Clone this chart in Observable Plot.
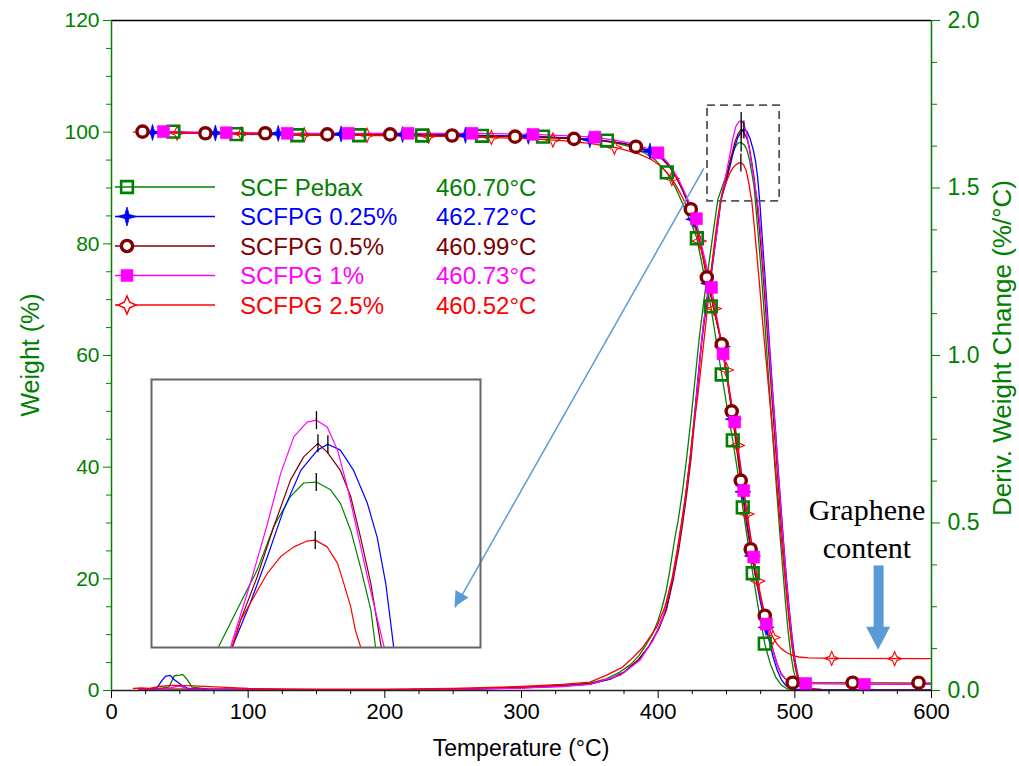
<!DOCTYPE html>
<html><head><meta charset="utf-8">
<script src="https://cdn.jsdelivr.net/npm/d3@7"></script>
<script src="https://cdn.jsdelivr.net/npm/@observablehq/plot@0.6"></script>
<style>
body{margin:0;background:#fff;}
#wrap{position:relative;width:1019px;height:766px;overflow:hidden;background:#fff;}
#inset{position:absolute;left:151px;top:379px;}
</style></head><body><div id="wrap"></div>
<script>
// ---------- DATA ----------
const seriesNames = ["SCF Pebax", "SCFPG 0.25%", "SCFPG 0.5%", "SCFPG 1%", "SCFPG 2.5%"];
const peakLabels = ["460.70°C", "462.72°C", "460.99°C", "460.73°C", "460.52°C"];
const peakTemps = [460.70, 462.72, 460.99, 460.73, 460.52];
const peakRates = [1.636, 1.675, 1.676, 1.700, 1.576];
const seriesColors = ["#008000", "#0000ff", "#800000", "#ff00ff", "#ff0000"];

const xMajorTicks = [0, 100, 200, 300, 400, 500, 600];
const xMinorTicks = [25, 50, 75, 125, 150, 175, 225, 250, 275, 325, 350, 375, 425, 450, 475, 525, 550, 575];
const wMajorTicks = [0, 20, 40, 60, 80, 100, 120];
const wMinorTicks = [5, 10, 15, 25, 30, 35, 45, 50, 55, 65, 70, 75, 85, 90, 95, 105, 110, 115];
const dMajorTicks = [0, 0.5, 1.0, 1.5, 2.0];
const dMinorTicks = [0.125, 0.25, 0.375, 0.625, 0.75, 0.875, 1.125, 1.25, 1.375, 1.625, 1.75, 1.875];

// TGA weight curves  [temperature °C, weight %]
const tgaPebax = [[20,100.0],[45.3,100.1],[91.4,99.65],[135.9,99.45],[181.2,99.45],[227.3,99.4],[271.1,99.35],[315.7,99.2],[340,98.9],[362.5,98.45],[378,97.5],[390,96.3],[398,95.0],[406.3,92.8],[413,89.9],[419,86.6],[424,83.8],[428.3,81.0],[433,75.2],[438.5,68.8],[442.5,62.6],[446.5,56.6],[450.5,50.6],[454.6,44.8],[458,39.4],[461.9,32.8],[465.5,26.8],[469.2,21.0],[473,15.2],[478,8.4],[482,4.8],[486,2.4],[490,1.0],[494,0.35],[500,0.1],[510,0.05],[600,0.03]];
const tgaPG025 = [[20,100.0],[40,99.95],[70,99.85],[110,99.8],[160,99.7],[200,99.6],[250,99.5],[295,99.3],[320,99.1],[340,98.9],[360,98.5],[375,98.0],[385,97.4],[395,96.5],[402,95.5],[408,94.0],[413,92.1],[418,89.6],[423,86.7],[428,82.8],[432,78.8],[436,74.0],[441,68.2],[446.5,62.2],[450,57.0],[454,50.3],[457,44.9],[460.4,38.5],[464,31.8],[467.7,25.8],[471,20.8],[474.5,16.2],[478,12.4],[481,9.1],[484,6.1],[487,3.7],[490,2.0],[493,1.0],[496,0.5],[500,0.25],[510,0.12],[600,0.08]];
const tgaPG05 = [[20,100.0],[25,100.05],[40,99.95],[70,99.8],[110,99.75],[160,99.6],[200,99.55],[250,99.4],[295,99.2],[320,99.0],[340,98.8],[360,98.4],[375,97.9],[385,97.3],[395,96.4],[402,95.4],[408,93.9],[413,92.0],[418,89.5],[423,86.6],[428,82.6],[432,78.4],[436,73.5],[441,67.9],[446.5,62.0],[450,56.5],[454,49.8],[457,44.2],[460.4,37.6],[464,30.9],[467.7,25.3],[471,20.8],[474.5,16.8],[478,13.4],[481,10.3],[484,7.3],[487,4.8],[490,3.0],[493,2.1],[496,1.65],[500,1.45],[510,1.38],[550,1.35],[600,1.32]];
const tgaPG1 = [[20,100.05],[38,100.1],[84,99.9],[130,99.8],[220,99.8],[265,99.8],[308,99.6],[335,99.35],[354,99.1],[370,98.5],[385,97.7],[395,96.8],[400,96.2],[406,94.9],[411,93.2],[416,91.0],[421,88.4],[425,86.1],[428,84.0],[432,79.5],[436,75.4],[439,72.2],[443,66.8],[447.5,60.3],[452,53.7],[456,48.1],[459.5,41.7],[462.6,35.8],[466,29.8],[469.9,23.9],[474,17.8],[479.2,11.9],[483,8.0],[487,4.6],[490,2.9],[494,1.9],[499,1.4],[508,1.22],[551,1.1],[600,1.08]];
const tgaPG25 = [[16,100.0],[30,99.9],[60,99.8],[100,99.7],[150,99.5],[200,99.4],[250,99.2],[300,98.9],[330,98.5],[350,98.0],[370,97.2],[385,96.2],[395,95.1],[402,93.9],[408,92.3],[413,90.5],[418,88.2],[423,85.6],[428,82.2],[432,78.6],[436,74.2],[441,68.4],[446.5,62.4],[450,57.4],[454,50.8],[457,45.6],[460.4,39.8],[464,33.6],[467.7,27.5],[471,22.3],[474.5,17.6],[478,13.6],[481,11.2],[484,9.5],[487,8.3],[490,7.5],[494,6.8],[498,6.3],[503,6.0],[510,5.85],[530,5.75],[600,5.7]];

// TGA marker positions  [temperature °C, weight %]
const mkPebax = [[45.3,100.1],[91.4,99.65],[135.9,99.45],[181.2,99.45],[227.3,99.4],[271.1,99.35],[315.7,99.2],[362.5,98.5],[406.3,92.8],[428.3,81.0],[438.5,68.8],[446.5,56.6],[454.6,44.8],[461.9,32.8],[469.2,21.0],[478.0,8.4]];
const mkPG025 = [[30,99.95],[76,99.85],[122,99.78],[168,99.68],[213,99.58],[259,99.45],[305,99.25],[350,98.65],[394,96.6],[426,84.4],[437,72.9],[447,61.6],[455,48.6],[462,35.6],[469,24.1],[479,11.3]];
const mkPG05 = [[22.7,100.1],[68.7,99.8],[112.5,99.8],[157.9,99.6],[203.9,99.6],[249.2,99.4],[295.3,99.2],[338.4,98.8],[383.7,97.4],[423.9,86.2],[435.6,74.0],[446.5,62.0],[453.8,50.0],[460.4,37.6],[467.7,25.3],[478.0,13.4],[498.4,1.4],[542.3,1.4],[590.5,1.4]];
const mkPG1 = [[38,100.1],[84,99.9],[128.6,99.8],[173.2,99.8],[217,99.8],[263.8,99.8],[308.4,99.6],[353.7,99.1],[399.8,96.3],[428,84.5],[439,72.2],[447.5,60.3],[456,48.1],[462.6,35.8],[469.9,23.9],[479.2,11.9],[508,1.25],[551,1.1]];
const mkPG25 = [[48,99.85],[95,99.7],[141,99.55],[187,99.45],[232,99.3],[278,99.05],[323,98.6],[368,97.3],[410,91.7],[430,80.5],[441,68.4],[450,57.4],[458,43.9],[465,31.6],[473,19.6],[484,9.5],[527,5.75],[573,5.7]];

// DTG curves  [temperature °C, deriv. weight change %/°C]
const dtgPebax = [[20,0.004],[35,0.006],[42,0.01],[46,0.044],[50,0.046],[52,0.048],[55,0.035],[59,0.01],[70,0.005],[100,0.003],[150,0.002],[200,0.002],[250,0.004],[300,0.01],[330,0.016],[350,0.022],[362,0.035],[372,0.055],[380,0.078],[386,0.105],[391,0.135],[396,0.17],[400,0.21],[403,0.25],[406,0.3],[408.5,0.358],[412,0.45],[414.6,0.507],[418,0.6],[421,0.7],[424,0.81],[427,0.93],[430,1.05],[433,1.15],[436,1.24],[440,1.36],[443.7,1.466],[447.5,1.511],[450.4,1.545],[453.3,1.59],[456.2,1.621],[458.5,1.635],[460.7,1.636],[463.2,1.628],[464.9,1.614],[466.7,1.586],[468.4,1.548],[470.2,1.504],[471,1.466],[473,1.37],[475,1.27],[477,1.16],[479,1.04],[481,0.92],[483,0.81],[485,0.69],[487,0.58],[489,0.47],[491,0.37],[493,0.27],[495,0.18],[497,0.11],[499,0.06],[501,0.03],[504,0.01],[510,0.002],[560,0.001],[600,0.001]];
const dtgPG025 = [[20,0.004],[33,0.006],[37,0.03],[39.5,0.042],[43,0.045],[46,0.032],[51.7,0.015],[56,0.006],[70,0.004],[100,0.003],[150,0.002],[200,0.002],[250,0.003],[300,0.008],[330,0.013],[350,0.019],[365,0.034],[375,0.054],[385,0.088],[393,0.13],[400,0.183],[406,0.245],[411,0.34],[415,0.435],[418,0.515],[421,0.61],[424,0.715],[427,0.84],[429,0.93],[431,1.01],[433,1.08],[435,1.14],[439,1.245],[442.7,1.36],[446.1,1.466],[449.2,1.511],[452.2,1.559],[455,1.607],[458,1.648],[460.9,1.669],[462.72,1.675],[464.9,1.669],[467.2,1.648],[469.6,1.614],[471.3,1.579],[472.8,1.531],[473.6,1.493],[474.5,1.45],[476,1.36],[478,1.245],[480,1.125],[482,1.0],[484,0.88],[486,0.77],[488,0.65],[490,0.54],[492,0.43],[494,0.33],[496,0.24],[498,0.16],[500,0.095],[502,0.05],[504,0.022],[507,0.008],[512,0.002],[600,0.001]];
const dtgPG05 = [[20,0.005],[60,0.004],[100,0.003],[150,0.002],[200,0.002],[250,0.004],[300,0.009],[330,0.014],[350,0.02],[365,0.035],[375,0.055],[385,0.09],[393,0.13],[400,0.18],[406,0.24],[411,0.33],[415,0.42],[418,0.5],[421,0.59],[424,0.69],[427,0.82],[429,0.91],[431.7,1.04],[434.9,1.15],[439,1.26],[442.7,1.37],[445.5,1.455],[447.5,1.493],[450.4,1.538],[453.3,1.59],[456.2,1.638],[458.5,1.662],[460.99,1.676],[462.6,1.667],[464.9,1.648],[466.7,1.621],[468.4,1.579],[470.2,1.531],[472,1.466],[474,1.38],[476,1.285],[478,1.175],[480,1.06],[482,0.945],[484,0.83],[486,0.72],[488,0.61],[490,0.5],[492,0.4],[494,0.3],[496,0.21],[498,0.135],[500,0.075],[502,0.038],[504,0.018],[507,0.006],[512,0.002],[600,0.001]];
const dtgPG1 = [[20,0.004],[40,0.005],[50,0.014],[55,0.005],[100,0.002],[150,0.002],[200,0.002],[250,0.003],[300,0.007],[330,0.012],[350,0.018],[372,0.045],[386.6,0.09],[396.3,0.15],[403.6,0.22],[411,0.345],[415,0.44],[418,0.52],[421,0.61],[424,0.71],[427,0.83],[429,0.92],[431,1.01],[433,1.09],[435,1.15],[439,1.255],[442.7,1.36],[445.8,1.466],[449.2,1.531],[452.2,1.593],[454.5,1.645],[456.8,1.683],[459.1,1.698],[460.73,1.7],[462.6,1.693],[464.4,1.669],[466.1,1.631],[467.8,1.586],[469.6,1.538],[471.3,1.495],[472.5,1.466],[474.5,1.39],[476,1.32],[478,1.21],[480,1.1],[482,0.98],[484,0.87],[486,0.76],[488,0.64],[490,0.53],[492,0.42],[494,0.32],[496,0.23],[498,0.15],[500,0.085],[502,0.045],[504,0.02],[507,0.007],[512,0.002],[600,0.001]];
const dtgPG25 = [[16,0.006],[22,0.008],[28,0.006],[35,0.012],[45,0.015],[60,0.014],[80,0.01],[100,0.006],[150,0.004],[200,0.004],[250,0.006],[300,0.012],[330,0.018],[350,0.025],[362,0.045],[374,0.07],[382,0.1],[389,0.13],[394,0.16],[399,0.19],[405,0.25],[410,0.33],[414,0.42],[417,0.5],[420,0.58],[423,0.68],[426,0.79],[429,0.88],[432,0.99],[435,1.1],[438,1.22],[441,1.33],[443.5,1.41],[445.5,1.455],[447.5,1.493],[449.8,1.517],[452.2,1.542],[454.5,1.559],[456.8,1.569],[459.1,1.575],[460.52,1.576],[462.6,1.569],[464.4,1.552],[465.5,1.531],[466.7,1.507],[467.5,1.483],[468.4,1.466],[470,1.4],[472,1.31],[474,1.22],[476,1.12],[478,1.03],[480,0.94],[482,0.85],[484,0.76],[486,0.66],[488,0.56],[490,0.46],[492,0.37],[494,0.28],[496,0.2],[498,0.13],[500,0.08],[502,0.045],[505,0.02],[510,0.007],[520,0.003],[600,0.002]];

// zoom window (dashed box) and inset ranges
const zoomBoxT = [436.1, 488.9];
const zoomBoxD = [1.46, 1.746];
const insetT = [432.0, 489.3];
const insetD = [1.465, 1.742];
// annotations (data units: °C, weight %)
const pointerFrom = [433.4, 93.5];
const pointerTo = [251.4, 14.9];
const grapheneArrowT = 561.3;
const grapheneArrowW = [22.4, 7.2];
const grapheneText = ["Graphene", "content"];
const grapheneTextT = 552.8;
const grapheneTextW = [32.3, 25.5];

// ---------- SETUP ----------
const FONT = "'Liberation Sans', Arial, sans-serif";
const GREEN = "#008000";
const xDomain = [0, 600], yDomain = [0, 120], dDomain = [0, 2];
const K = yDomain[1] / dDomain[1];

const tgaAll = [tgaPebax, tgaPG025, tgaPG05, tgaPG1, tgaPG25];
const mkAll = [mkPebax, mkPG025, mkPG05, mkPG1, mkPG25];
const dtgAll = [dtgPebax, dtgPG025, dtgPG05, dtgPG1, dtgPG25];

function star4(k) {
  return {draw(ctx, size) {
    const r = Math.sqrt(size / Math.PI), q = r * k;
    ctx.moveTo(0, -r); ctx.lineTo(q, -q); ctx.lineTo(r, 0); ctx.lineTo(q, q);
    ctx.lineTo(0, r); ctx.lineTo(-q, q); ctx.lineTo(-r, 0); ctx.lineTo(-q, -q); ctx.closePath();
  }};
}
const vbar = {draw(ctx, size) { const r = Math.sqrt(size / Math.PI); ctx.moveTo(0, -r); ctx.lineTo(0, r); }};
const markerStyles = [
  {symbol: d3.symbolSquare, r: 6.6, fill: "none", stroke: seriesColors[0], strokeWidth: 2.6},
  {symbol: star4(0.22), r: 8, fill: seriesColors[1], stroke: seriesColors[1], strokeWidth: 0.8},
  {symbol: d3.symbolCircle, r: 5.6, fill: "white", stroke: seriesColors[2], strokeWidth: 3.4},
  {symbol: d3.symbolSquare, r: 6.8, fill: seriesColors[3], stroke: seriesColors[3], strokeWidth: 0.5},
  {symbol: star4(0.3), r: 7, fill: "none", stroke: seriesColors[4], strokeWidth: 1.1}
];
const legendMarkerR = [6.6, 9.5, 5.6, 6.8, 9];
const markerOrder = [4, 1, 0, 2, 3];

const toRows = (arr, i) => arr.map(([t, v]) => ({i, t, v}));
const peaks = peakTemps.map((t, i) => ({i, t, v: peakRates[i]}));

const marks = [];
// DTG lines
dtgAll.forEach((a, i) => marks.push(Plot.line(toRows(a, i), {x: "t", y: d => d.v * K, stroke: seriesColors[i], strokeWidth: 1.3})));
// TGA lines
tgaAll.forEach((a, i) => marks.push(Plot.line(toRows(a, i), {x: "t", y: "v", stroke: seriesColors[i], strokeWidth: 1.3})));
// TGA markers
markerOrder.forEach(i => marks.push(Plot.dot(toRows(mkAll[i], i), {x: "t", y: "v", ...markerStyles[i]})));
// peak ticks
marks.push(Plot.dot(peaks, {x: "t", y: d => d.v * K, symbol: vbar, r: 9, stroke: "black", strokeWidth: 1.3}));
// dashed zoom box
marks.push(Plot.rect([{}], {x1: () => zoomBoxT[0], x2: () => zoomBoxT[1], y1: () => zoomBoxD[0] * K, y2: () => zoomBoxD[1] * K, fill: "none", stroke: "#555", strokeWidth: 1.8, strokeDasharray: "8,5"}));
// frame lines
marks.push(Plot.ruleY([yDomain[1]], {stroke: "black", strokeWidth: 1.5}));
marks.push(Plot.ruleY([yDomain[0]], {stroke: "#222", strokeWidth: 1.5}));
marks.push(Plot.ruleX([xDomain[0]], {stroke: GREEN, strokeWidth: 1.5}));
marks.push(Plot.ruleX([xDomain[1]], {stroke: GREEN, strokeWidth: 1.5}));
// axes
marks.push(Plot.axisX(xMajorTicks, {anchor: "bottom", tickSize: 8, tickPadding: 5, fontSize: 22, color: "black", label: null, tickFormat: d => String(d)}));
marks.push(Plot.axisX(xMinorTicks, {anchor: "bottom", tickSize: 4, tickFormat: () => "", color: "black", label: null}));
marks.push(Plot.axisY(wMajorTicks, {anchor: "left", tickSize: 8, tickPadding: 4, fontSize: 21, color: GREEN, label: null, tickFormat: d => String(d)}));
marks.push(Plot.axisY(wMinorTicks, {anchor: "left", tickSize: 5, tickFormat: () => "", color: GREEN, label: null}));
marks.push(Plot.axisY(dMajorTicks.map(v => v * K), {anchor: "right", tickSize: 8, tickPadding: 8, fontSize: 23, color: GREEN, label: null, tickFormat: d => (d / K).toFixed(1)}));
marks.push(Plot.axisY(dMinorTicks.map(v => v * K), {anchor: "right", tickSize: 5, tickFormat: () => "", color: GREEN, label: null}));
// pointer line from zoom box to inset
marks.push(Plot.link([{}], {x1: () => pointerFrom[0], y1: () => pointerFrom[1], x2: () => pointerTo[0], y2: () => pointerTo[1], stroke: "#5b9bd5", strokeWidth: 1.5}));
// graphene arrow shaft
marks.push(Plot.link([{}], {x1: () => grapheneArrowT, x2: () => grapheneArrowT, y1: () => grapheneArrowW[0], y2: () => (grapheneArrowW[0] + grapheneArrowW[1]) / 2 - 3.5, stroke: "#5b9bd5", strokeWidth: 10}));
// graphene text
marks.push(Plot.text(grapheneText, {x: () => grapheneTextT, y: (d, i) => grapheneTextW[i], text: d => d, fontFamily: "'Liberation Serif', 'Times New Roman', serif", fontSize: 30, fill: "black", lineAnchor: "middle"}));

const chart = Plot.plot({
  width: 1019, height: 766,
  marginLeft: 111, marginRight: 88, marginTop: 20, marginBottom: 76,
  x: {domain: xDomain, label: null},
  y: {domain: yDomain, label: null},
  style: {fontFamily: FONT, background: "white", overflow: "visible"},
  marks
});
document.getElementById("wrap").appendChild(chart);

// ---------- INSET ----------
const insetMarks = [];
dtgAll.forEach((a, i) => insetMarks.push(Plot.line(toRows(a, i), {x: "t", y: "v", stroke: seriesColors[i], strokeWidth: 1.2, clip: true})));
insetMarks.push(Plot.dot(peaks, {x: "t", y: "v", symbol: vbar, r: 9, stroke: "black", strokeWidth: 1.3}));
insetMarks.push(Plot.frame({stroke: "#666", strokeWidth: 2}));
const inset = Plot.plot({
  width: 329, height: 268, margin: 0,
  x: {domain: insetT, axis: null},
  y: {domain: insetD, axis: null},
  style: {background: "transparent", overflow: "visible"},
  marks: insetMarks
});
inset.id = "inset";
document.getElementById("wrap").appendChild(inset);

// ---------- ANNOTATION OVERLAY ----------
const sx = chart.scale("x"), sy = chart.scale("y");
const over = d3.select("#wrap").append("svg").attr("width", 1019).attr("height", 766)
  .style("position", "absolute").style("left", "0px").style("top", "0px").style("pointer-events", "none");
function head(tip, from, len, halfW, color) {
  const [tx, ty] = tip, [fx, fy] = from;
  const ang = Math.atan2(ty - fy, tx - fx);
  const bx = tx - len * Math.cos(ang), by = ty - len * Math.sin(ang);
  const nx = -Math.sin(ang) * halfW, ny = Math.cos(ang) * halfW;
  over.append("path").attr("d", `M${tx},${ty}L${bx + nx},${by + ny}L${bx - nx},${by - ny}Z`).attr("fill", color);
}
head([sx.apply(pointerTo[0]), sy.apply(pointerTo[1])], [sx.apply(pointerFrom[0]), sy.apply(pointerFrom[1])], 15, 7.5, "#5b9bd5");
head([sx.apply(grapheneArrowT), sy.apply(grapheneArrowW[1])], [sx.apply(grapheneArrowT), sy.apply(grapheneArrowW[0])], 23, 12, "#5b9bd5");

// axis titles
over.append("text").attr("transform", `translate(${30},${355}) rotate(-90)`).attr("text-anchor", "middle").attr("dominant-baseline", "central")
  .attr("fill", GREEN).attr("font-size", 25).attr("font-family", FONT).text("Weight (%)");
over.append("text").attr("transform", `translate(${1002},${348}) rotate(-90)`).attr("text-anchor", "middle").attr("dominant-baseline", "central")
  .attr("fill", GREEN).attr("font-size", 26).attr("font-family", FONT).text("Deriv. Weight Change (%/°C)");
over.append("text").attr("x", 521).attr("y", 748).attr("text-anchor", "middle").attr("dominant-baseline", "central")
  .attr("fill", "black").attr("font-size", 23).attr("font-family", FONT).text("Temperature (°C)");

// legend
const legendY0 = 187, legendStep = 29.5;
seriesNames.forEach((name, i) => {
  const y = legendY0 + i * legendStep;
  const g = over.append("g");
  g.append("line").attr("x1", 115).attr("x2", 215).attr("y1", y).attr("y2", y).attr("stroke", seriesColors[i]).attr("stroke-width", 1.5);
  const ms = markerStyles[i];
  const rr = legendMarkerR[i];
  g.append("path").attr("transform", `translate(127,${y})`).attr("d", d3.symbol(ms.symbol, Math.PI * rr * rr)())
    .attr("fill", i === 4 ? "white" : ms.fill).attr("stroke", ms.stroke).attr("stroke-width", i === 4 ? 1.5 : ms.strokeWidth);
  g.append("text").attr("x", 240).attr("y", y).attr("text-anchor", "start").attr("dominant-baseline", "central").attr("fill", seriesColors[i])
    .attr("font-size", 24).attr("font-family", FONT).text(name);
  g.append("text").attr("x", 436).attr("y", y).attr("text-anchor", "start").attr("dominant-baseline", "central").attr("fill", seriesColors[i])
    .attr("font-size", 24).attr("font-family", FONT).text(peakLabels[i]);
});
</script></body></html>
